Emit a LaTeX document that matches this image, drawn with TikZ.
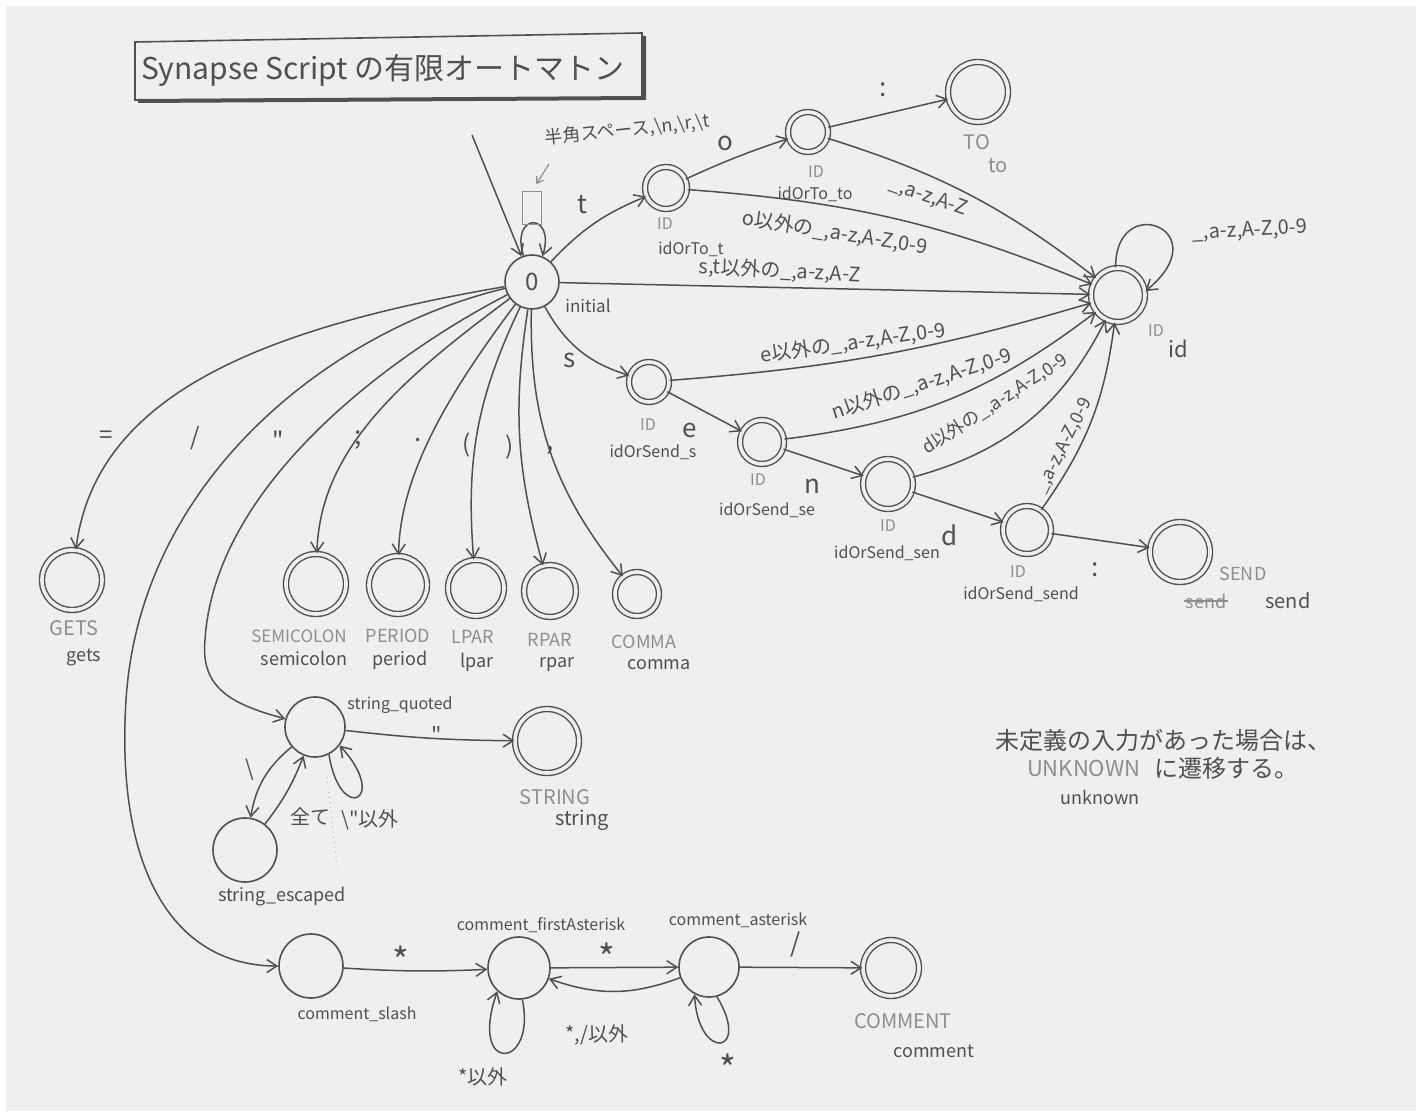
\documentclass[tikz,border=0pt]{standalone}
\usepackage{fontspec}
\setmainfont{Noto Sans CJK JP}[Ligatures=TeXOff]
\usetikzlibrary{arrows.meta}
\definecolor{paper}{HTML}{EFEFEF}
\definecolor{pencil}{HTML}{505050}
\definecolor{faint}{HTML}{8E8E8E}
\newcommand{\fsz}[1]{\fontsize{#1}{#1}\selectfont}
\begin{document}
\begin{tikzpicture}[x=0.5pt,y=0.5pt,
  st/.style={circle,draw=pencil,line width=0.8pt,minimum size=#1,inner sep=0pt},
  acc/.style={circle,draw=pencil,line width=0.7pt,double=paper,double distance=1.8pt,minimum size=#1,inner sep=0pt},
  tr/.style={draw=pencil,line width=0.75pt,-{Straight Barb[length=5pt,width=6.5pt]}},
  sym/.style={text=pencil,font=\fsz{13},inner sep=0.5pt},
  star/.style={text=pencil,font=\fsz{18},inner sep=0.5pt},
  cond/.style={text=pencil,font=\fsz{10},inner sep=0.5pt},
  nm/.style={text=pencil,font=\fsz{8},inner sep=0.5pt},
  tok/.style={text=faint,font=\fsz{9},inner sep=0.5pt},
  idtag/.style={text=faint,font=\fsz{8},inner sep=0.5pt},
]
% paper
\fill[white] (0,0) rectangle (1422,-1117);
\fill[paper] (6,-6) rectangle (1416,-1111);
\useasboundingbox (0,0) rectangle (1422,-1117);

% title box
\draw[pencil,line width=0.8pt] (135,-42) -- (642,-33) -- (642,-98) -- (135,-100) -- cycle;
\draw[pencil,line width=2pt] (138,-101) -- (644,-98) -- (644,-36);
\node[text=pencil,font=\fsz{15}] (title) at (383,-70) {Synapse Script の有限オートマトン};

% ---------- states ----------
\node[st=27pt,font=\fsz{12},text=pencil] (init) at (532,-282) {0};
\node[acc=21pt] (tot)   at (666,-188) {};
\node[acc=20pt] (toto)  at (808,-132) {};
\node[acc=30pt] (TO)    at (978,-92) {};
\node[acc=27pt] (id)    at (1118,-295) {};
\node[acc=20pt] (ss)    at (649,-382) {};
\node[acc=22pt] (sse)   at (762,-442) {};
\node[acc=25pt] (ssen)  at (888,-484) {};
\node[acc=24pt] (ssend) at (1027,-530) {};
\node[acc=30pt] (SEND)  at (1180,-552) {};

\node[acc=30pt] (GETS)  at (72,-580) {};
\node[acc=30pt] (SEMI)  at (316,-584) {};
\node[acc=29pt] (PER)   at (398,-585) {};
\node[acc=28pt] (LPAR)  at (476,-588) {};
\node[acc=26pt] (RPAR)  at (550,-591) {};
\node[acc=22pt] (COMMA) at (637,-594) {};

\node[st=30pt] (sq)     at (315,-727) {};
\node[acc=32pt] (STRING) at (547,-741) {};
\node[st=32pt] (sesc)   at (245,-850) {};

\node[st=32pt] (cslash) at (311,-966) {};
\node[st=31pt] (cfirst) at (519,-968) {};
\node[st=30pt] (cast)   at (709,-967) {};
\node[acc=28pt] (COMMENT) at (891,-968) {};

% ---------- state names ----------
\node[nm,font=\fsz{8.5}] (initn) at (588,-306) {initial};
\node[idtag] (tottag) at (665,-224) {ID};
\node[nm] (totn) at (691,-249) {idOrTo\_t};
\node[idtag] (tototag) at (816,-172) {ID};
\node[nm] (toton) at (815,-194) {idOrTo\_to};
\node[tok,font=\fsz{10}] (TOt) at (977,-142) {TO};
\node[tok,font=\fsz{10}] (TOn) at (998,-166) {to};
\node[idtag] (idtag) at (1156,-331) {ID};
\node[nm,font=\fsz{11}] (idn) at (1178,-349) {id};
\node[idtag] (sstag) at (648,-425) {ID};
\node[nm] (ssn) at (653,-452) {idOrSend\_s};
\node[idtag] (ssetag) at (758,-480) {ID};
\node[nm] (ssen2) at (767,-510) {idOrSend\_se};
\node[idtag] (ssentag) at (888,-526) {ID};
\node[nm] (ssenn) at (887,-553) {idOrSend\_sen};
\node[idtag] (ssendtag) at (1018,-572) {ID};
\node[nm] (ssendn) at (1021,-594) {idOrSend\_send};
\node[tok] (SENDt) at (1243,-574) {SEND};
\node[tok] (SENDx) at (1206,-601) {send};
\draw[faint,line width=0.8pt] (SENDx.west) -- (SENDx.east);
\node[nm,font=\fsz{10}] (SENDn) at (1288,-601) {send};

\node[tok,font=\fsz{10}] (GETSt) at (74,-628) {GETS};
\node[nm,font=\fsz{9}] (GETSn) at (84,-657) {gets};
\node[tok,font=\fsz{8.5}] (SEMIt) at (299,-636) {SEMICOLON};
\node[nm,font=\fsz{9}] (SEMIn) at (304,-658) {semicolon};
\node[tok,font=\fsz{9}] (PERt) at (398,-636) {PERIOD};
\node[nm,font=\fsz{9}] (PERn) at (400,-660) {period};
\node[tok,font=\fsz{9}] (LPARt) at (473,-637) {LPAR};
\node[nm,font=\fsz{9}] (LPARn) at (477,-662) {lpar};
\node[tok,font=\fsz{9}] (RPARt) at (550,-640) {RPAR};
\node[nm,font=\fsz{9}] (RPARn) at (557,-665) {rpar};
\node[tok,font=\fsz{9}] (COMMAt) at (644,-642) {COMMA};
\node[nm,font=\fsz{9}] (COMMAn) at (659,-665) {comma};

\node[nm] (sqn) at (400,-705) {string\_quoted};
\node[tok,font=\fsz{10}] (STRINGt) at (555,-797) {STRING};
\node[nm,font=\fsz{10}] (STRINGn) at (582,-820) {string};
\node[nm,font=\fsz{9}] (sescn) at (282,-897) {string\_escaped};

\node[nm] (cslashn) at (357,-1014) {comment\_slash};
\node[nm] (cfirstn) at (541,-925) {comment\_firstAsterisk};
\node[nm] (castn) at (738,-920) {comment\_asterisk};
\node[tok,font=\fsz{10}] (COMMENTt) at (903,-1021) {COMMENT};
\node[nm,font=\fsz{9}] (COMMENTn) at (934,-1051) {comment};

% ---------- start arrow and whitespace loop ----------
\coordinate (start) at (472,-135);
\draw[tr] (start) -- (init);
\draw[tr] (init.108) .. controls (510,-212) and (556,-212) .. (init.68);
\node[draw=faint,line width=0.6pt,minimum width=9.5pt,minimum height=16.5pt,inner sep=0pt] (spacebox) at (532,-208) {};
\node[text=pencil,font=\fsz{9},rotate=6] (wsnote) at (627,-130) {半角スペース,\textbackslash n,\textbackslash r,\textbackslash t};
\coordinate (wsfrom) at (549,-164);
\draw[faint,line width=0.6pt,-{Straight Barb[length=3pt,width=4pt]},shorten >=4pt] (wsfrom) -- (spacebox.north);

% ---------- identifier / keyword part ----------
\draw[tr] (init) to[bend left=12] (tot);
\draw[tr] (tot) to[bend left=3] (toto);
\draw[tr] (toto) -- (TO);
\draw[tr] (toto) to[bend left=10] (id);
\draw[tr] (tot) to[bend left=9] (id);
\draw[tr] (init) -- (id);
\draw[tr] (id.95) .. controls (1115,-190) and (1220,-230) .. (id.8);

\draw[tr] (init) to[bend right=22] (ss);
\draw[tr] (ss) to[bend right=6] (id);
\draw[tr] (ss) -- (sse);
\draw[tr] (sse) to[bend right=15] (id);
\draw[tr] (sse) -- (ssen);
\draw[tr] (ssen) to[bend right=24] (id);
\draw[tr] (ssen) -- (ssend);
\draw[tr] (ssend) to[bend right=14] (id);
\draw[tr] (ssend) -- (SEND);

\node[sym] (lt) at (582,-205) {t};
\node[sym] (lo) at (725,-143) {o};
\node[sym] (lcolon1) at (883,-90) {:};
\node[sym] (ls) at (570,-360) {s};
\node[sym] (le) at (690,-430) {e};
\node[sym] (ln) at (812,-486) {n};
\node[sym] (ld) at (950,-535) {d};
\node[sym] (lcolon2) at (1095,-570) {:};

\node[cond,rotate=-19] (ctoto) at (928,-197) {\_,a-z,A-Z};
\node[cond,rotate=-9] (ctot) at (835,-233) {o以外の\_,a-z,A-Z,0-9};
\node[cond,rotate=-3] (cinit) at (780,-271) {s,t以外の\_,a-z,A-Z};
\node[cond,rotate=3] (cid) at (1250,-231) {\_,a-z,A-Z,0-9};
\node[cond,rotate=8] (css) at (853,-343) {e以外の\_,a-z,A-Z,0-9};
\node[cond,rotate=18] (csse) at (922,-384) {n以外の\_,a-z,A-Z,0-9};
\node[cond,font=\fsz{9},rotate=33] (cssen) at (995,-404) {d以外の\_,a-z,A-Z,0-9};
\node[cond,font=\fsz{9},rotate=63] (cssend) at (1064,-446) {\_,a-z,A-Z,0-9};

% ---------- single-character tokens ----------
\draw[tr] (init) .. controls (250,-330) and (95,-400) .. (GETS);
\draw[tr] (init) .. controls (330,-330) and (140,-480) .. (126,-700)
                 .. controls (115,-880) and (180,-966) .. (cslash);
\draw[tr] (init) .. controls (400,-350) and (215,-480) .. (205,-640)
                 .. controls (200,-690) and (235,-705) .. (sq);
\draw[tr] (init) .. controls (400,-380) and (320,-450) .. (SEMI);
\draw[tr] (init) .. controls (455,-385) and (400,-470) .. (PER);
\draw[tr] (init) to[bend right=15] (LPAR);
\draw[tr] (init) to[bend right=12] (RPAR);
\draw[tr] (init) to[bend right=20] (COMMA);

\node[sym,font=\fsz{12}] (leq) at (106,-437) {=};
\node[sym,font=\fsz{12}] (lslash) at (195,-438) {/};
\node[sym,font=\fsz{12}] (lquote) at (278,-440) {"};
\node[sym,font=\fsz{13}] (lsemi) at (358,-440) {;};
\node[sym,font=\fsz{13}] (lper) at (418,-440) {.};
\node[sym,font=\fsz{12}] (llpar) at (467,-445) {(};
\node[sym,font=\fsz{12}] (lrpar) at (510,-447) {)};
\node[sym,font=\fsz{13}] (lcomma) at (550,-450) {,};

% ---------- string literal ----------
\draw[tr] (sq) to[bend right=3] (STRING);
\draw[tr] (sq) to[bend right=20] (sesc);
\draw[tr] (sesc) to[bend right=8] (sq);
\draw[tr] (sq.-63) .. controls (340,-825) and (390,-800) .. (sq.-37);
\draw[faint!70,line width=0.5pt,dotted] (327,-777) -- (337,-867);
\node[sym,font=\fsz{11}] (lq2) at (437,-735) {"};
\node[sym,font=\fsz{11}] (lbs) at (250,-770) {\textbackslash};
\node[cond,font=\fsz{10}] (lall) at (310,-817) {全て};
\node[cond,font=\fsz{10}] (lnotq) at (370,-820) {\textbackslash"以外};

% ---------- comment ----------
\draw[tr] (cslash) to[bend right=3] (cfirst);
\draw[tr] (cfirst) -- (cast);
\draw[tr] (cast) to[bend left=20] (cfirst);
\draw[tr] (cfirst.-84) .. controls (537,-1070) and (468,-1075) .. (cfirst.-133);
\draw[tr] (cast.-75) .. controls (752,-1055) and (698,-1062) .. (cast.-118);
\draw[tr] (cast) -- (COMMENT);
\node[star] (lst1) at (401,-960) {*};
\node[star] (lst2) at (607,-957) {*};
\node[sym] (lsl3) at (796,-944) {/};
\node[cond,font=\fsz{10}] (lnotsa) at (597,-1035) {*,/以外};
\node[cond,font=\fsz{10}] (lnots) at (483,-1077) {*以外};
\node[star] (lst3) at (728,-1068) {*};

% ---------- note ----------
\node[text=pencil,font=\fsz{12},anchor=west] (note1) at (988,-740) {未定義の入力があった場合は、};
\node[text=faint,font=\fsz{11},anchor=west] (note2a) at (1020,-768) {UNKNOWN};
\node[text=pencil,font=\fsz{12},anchor=west] (note2b) at (note2a.east) {に遷移する。};
\node[text=pencil,font=\fsz{9}] (note3) at (1100,-797) {unknown};
\end{tikzpicture}
\end{document}
